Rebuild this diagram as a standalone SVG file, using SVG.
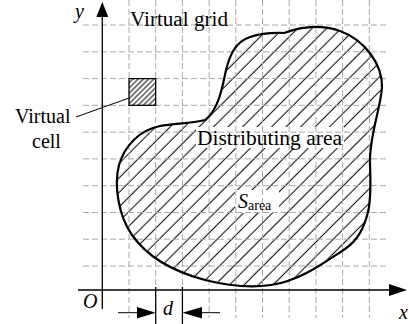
<svg xmlns="http://www.w3.org/2000/svg" width="409" height="324" viewBox="0 0 409 324">
<style>
.grid{stroke:#a8a8a8;stroke-width:1;stroke-dasharray:6 3;fill:none}
.ax{stroke:#000;stroke-width:1.3;fill:none}
.t{font-family:"Liberation Serif","Times New Roman",serif;font-size:20px;fill:#000}
.i{font-style:italic}
.thin{stroke:#000;stroke-width:1;fill:none}
</style>
<defs>
<pattern id="hatch" patternUnits="userSpaceOnUse" width="10.25" height="10" patternTransform="rotate(45)">
<line x1="5" y1="-1" x2="5" y2="11" stroke="#000" stroke-width="1"/>
</pattern>
<pattern id="hatch2" patternUnits="userSpaceOnUse" width="3.7" height="10" patternTransform="rotate(45)">
<line x1="1.85" y1="-1" x2="1.85" y2="11" stroke="#000" stroke-width="1"/>
</pattern>
</defs>
<rect width="409" height="324" fill="#fff"/>
<g id="area">
<path id="blob-fill" d="M205,120 C190,124 175,123 160,126 C140,130 125,145 119,165 C114,185 118,215 132,235 C148,258 175,272 205,280 C225,285 250,288 271,285 C300,281 325,262 345,249 C358,240 364,228 368,212 C372,195 370,175 370,160 C370,135 380,110 382,88 C383,65 365,40 340,31 C320,24 300,27 284,33 C275,33 265,32 250,37 C235,42 230,55 226,70 C222,90 218,110 205,120 Z" fill="url(#hatch)"/>
<rect x="196" y="127" width="148" height="21" fill="#fff"/>
<rect x="235" y="190" width="44" height="23" fill="#fff"/>
</g>
<g id="grid">
<line class="grid" x1="83" y1="25" x2="387" y2="25"/>
<line class="grid" x1="83" y1="51.8" x2="387" y2="51.8"/>
<line class="grid" x1="83" y1="78.6" x2="387" y2="78.6"/>
<line class="grid" x1="83" y1="105.3" x2="387" y2="105.3"/>
<line class="grid" x1="83" y1="132.1" x2="387" y2="132.1"/>
<line class="grid" x1="83" y1="158.9" x2="387" y2="158.9"/>
<line class="grid" x1="83" y1="185.7" x2="387" y2="185.7"/>
<line class="grid" x1="83" y1="212.5" x2="387" y2="212.5"/>
<line class="grid" x1="83" y1="239.2" x2="387" y2="239.2"/>
<line class="grid" x1="83" y1="266" x2="387" y2="266"/>
<line class="grid" x1="129" y1="0" x2="129" y2="318"/>
<line class="grid" x1="155.7" y1="0" x2="155.7" y2="286"/>
<line class="grid" x1="182.4" y1="0" x2="182.4" y2="286"/>
<line class="grid" x1="209.1" y1="0" x2="209.1" y2="318"/>
<line class="grid" x1="235.8" y1="0" x2="235.8" y2="318"/>
<line class="grid" x1="262.5" y1="0" x2="262.5" y2="318"/>
<line class="grid" x1="289.2" y1="0" x2="289.2" y2="318"/>
<line class="grid" x1="315.9" y1="0" x2="315.9" y2="318"/>
<line class="grid" x1="342.6" y1="0" x2="342.6" y2="318"/>
<line class="grid" x1="369.3" y1="0" x2="369.3" y2="318"/>
</g>
<g id="distributing-area">
<path d="M205,120 C190,124 175,123 160,126 C140,130 125,145 119,165 C114,185 118,215 132,235 C148,258 175,272 205,280 C225,285 250,288 271,285 C300,281 325,262 345,249 C358,240 364,228 368,212 C372,195 370,175 370,160 C370,135 380,110 382,88 C383,65 365,40 340,31 C320,24 300,27 284,33 C275,33 265,32 250,37 C235,42 230,55 226,70 C222,90 218,110 205,120 Z" fill="none" stroke="#000" stroke-width="2.2"/>
<text class="t" x="197" y="145" textLength="145" lengthAdjust="spacingAndGlyphs">Distributing area</text>
<text class="t" x="238" y="208"><tspan class="i">S</tspan><tspan font-size="14" dy="2">area</tspan></text>
</g>
<g id="virtual-cell">
<rect x="129" y="78.6" width="26.7" height="26.7" fill="url(#hatch2)" stroke="#000" stroke-width="1.2"/>
</g>
<g id="connectors">
<line class="thin" x1="76" y1="117" x2="129" y2="98"/>
<line class="ax" x1="102.3" y1="309" x2="102.3" y2="14"/>
<polygon points="102.3,2 96.3,17 108.3,17" fill="#000"/>
<line class="ax" x1="78" y1="290" x2="392" y2="290"/>
<polygon points="407,290 389,284 389,296" fill="#000"/>
<line class="ax" x1="155.7" y1="287" x2="155.7" y2="324"/>
<line class="ax" x1="182.4" y1="287" x2="182.4" y2="324"/>
<line class="thin" x1="118" y1="312.7" x2="140" y2="312.7"/>
<polygon points="155.7,312.7 137,307 137,318.4" fill="#000"/>
<line class="thin" x1="199" y1="312.7" x2="220" y2="312.7"/>
<polygon points="182.4,312.7 202,307 202,318.4" fill="#000"/>
</g>
<g id="labels">
<text class="t" x="130" y="26" textLength="98" lengthAdjust="spacingAndGlyphs">Virtual grid</text>
<text class="t" x="15" y="123">Virtual</text>
<text class="t" x="32" y="148">cell</text>
<text class="t i" x="75" y="18">y</text>
<text class="t i" x="83" y="308">O</text>
<text class="t i" x="163" y="315">d</text>
<text class="t i" x="399" y="319">x</text>
</g>
</svg>
